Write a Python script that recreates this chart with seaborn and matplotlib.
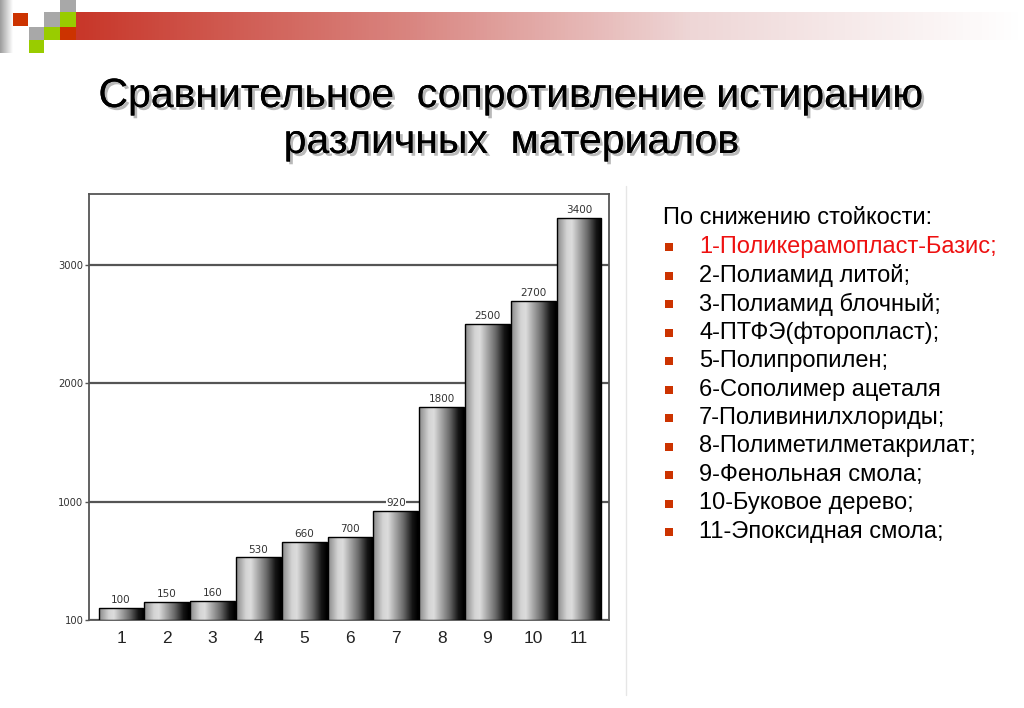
import numpy as np
import pandas as pd
import matplotlib
matplotlib.use("Agg")
import matplotlib.pyplot as plt
import seaborn as sns
from matplotlib.colors import LinearSegmentedColormap
from matplotlib.patches import Rectangle
from matplotlib import patheffects

# ---------------- data ----------------
categories = ["1", "2", "3", "4", "5", "6", "7", "8", "9", "10", "11"]
values = [100, 150, 160, 530, 660, 700, 920, 1800, 2500, 2700, 3400]
ytick_values = [0, 1000, 2000, 3000]
ytick_labels = ["100", "1000", "2000", "3000"]
title_lines = ["Сравнительное  сопротивление истиранию", "различных  материалов"]
list_header = "По снижению стойкости:"
materials = [
    "1-Поликерамопласт-Базис;",
    "2-Полиамид литой;",
    "3-Полиамид блочный;",
    "4-ПТФЭ(фторопласт);",
    "5-Полипропилен;",
    "6-Сополимер ацеталя",
    "7-Поливинилхлориды;",
    "8-Полиметилметакрилат;",
    "9-Фенольная смола;",
    "10-Буковое дерево;",
    "11-Эпоксидная смола;",
]

sns.set_theme(style="white")
plt.rcParams["font.family"] = ["Liberation Sans", "DejaVu Sans"]

W, H = 1024, 708
fig = plt.figure(figsize=(W / 100, H / 100), dpi=100)
fig.patch.set_facecolor("white")

# ---------------- decorative background (pixel coords) ----------------
bg = fig.add_axes([0, 0, 1, 1], zorder=0)
bg.set_xlim(0, W)
bg.set_ylim(H, 0)
bg.axis("off")

red_cmap = LinearSegmentedColormap.from_list(
    "hdr", [(0, "#c8372a"), (0.35, "#d98580"), (0.65, "#eed6d6"), (1, "#ffffff")])
bg.imshow(np.linspace(0, 1, 256)[None, :], cmap=red_cmap, aspect="auto",
          extent=(76, W, 40, 12), interpolation="bilinear")
gray_cmap = LinearSegmentedColormap.from_list("g", ["#9c9c9c", "#ffffff"])
bg.imshow(np.linspace(0, 1, 64)[None, :], cmap=gray_cmap, aspect="auto",
          extent=(0, 13, 53, 0), interpolation="bilinear")
GRAY, GREEN, RED = "#a8a8a8", "#99cc00", "#cc3300"
for (x0, y0, x1, y1, c) in [
    (60, 0, 76, 12, GRAY), (60, 12, 76, 27, GREEN), (60, 27, 76, 40, RED),
    (44, 12, 60, 27, GRAY), (44, 27, 60, 40, GREEN),
    (29, 27, 44, 40, GRAY), (29, 40, 44, 53, GREEN),
    (13, 13, 28, 26, RED)]:
    bg.add_patch(Rectangle((x0, y0), x1 - x0, y1 - y0, color=c, lw=0))

# faint frame of the chart picture
bg.plot([626, 626], [186, 695], color="#e6e6e6", lw=1)

# ---------------- title ----------------
shadow = [patheffects.withSimplePatchShadow(offset=(2, -2), shadow_rgbFace="#808080", alpha=0.55),
          patheffects.Normal()]
for line, yb in zip(title_lines, [107, 153]):
    fig.text(0.5, 1 - yb / H, line, ha="center", va="baseline", fontsize=29.5,
             color="black", path_effects=shadow)

# ---------------- chart ----------------
ax = fig.add_axes([89 / W, 1 - 620 / H, (609 - 89) / W, (620 - 194) / H], zorder=2)
df = pd.DataFrame({"cat": categories, "val": values})
sns.barplot(data=df, x="cat", y="val", ax=ax, color="#888888", edgecolor="black",
            linewidth=1.0, width=0.98, zorder=3)

bar_cmap = LinearSegmentedColormap.from_list(
    "bar", [(0, "#8a8a8a"), (0.22, "#d4d4d4"), (0.33, "#dcdcdc"), (0.68, "#6a6a6a"),
            (0.88, "#141414"), (1, "#000000")])
grad = np.linspace(0, 1, 200)[None, :]
for p in ax.patches:
    x, y = p.get_x(), p.get_y()
    w, h = p.get_width(), p.get_height()
    im = ax.imshow(grad, cmap=bar_cmap, aspect="auto", extent=(x, x + w, y, y + h),
                   interpolation="bilinear", zorder=3.5)
    im.set_clip_path(p)
    p.set_facecolor("none")
    p.set_zorder(4)

for cont in ax.containers:
    ax.bar_label(cont, labels=[str(v) for v in values], padding=2, fontsize=7.5,
                 color="#333333", family="DejaVu Sans", zorder=5,
                 bbox=dict(facecolor="white", edgecolor="none", pad=0.3))

ax.set_xlim(-0.699, 10.655)
ax.set_ylim(0, 3600)
ax.set_yticks(ytick_values)
ax.set_yticklabels(ytick_labels, fontsize=7.2, color="#333333", family="DejaVu Sans")
ax.set_xticks(range(len(categories)))
ax.set_xticklabels(categories, fontsize=12.5, color="#222222")
ax.set_xlabel("")
ax.set_ylabel("")
ax.tick_params(axis="y", which="both", left=True, length=3, width=1, color="#555555", pad=1)
ax.tick_params(axis="x", bottom=False, pad=2)
ax.yaxis.grid(True, color="#555555", lw=1.6)
ax.xaxis.grid(False)
ax.set_axisbelow(True)
for s in ax.spines.values():
    s.set_visible(True)
    s.set_color("#555555")
    s.set_linewidth(1.3)
ax.set_facecolor("white")

# ---------------- right-hand list ----------------
fig.text(663 / W, 1 - 218 / H, list_header, ha="left", va="center", fontsize=17, color="black")
for i, name in enumerate(materials):
    yc = 247 + i * 28.5
    bg.add_patch(Rectangle((665, yc - 4), 8, 8, color="#cc3300", lw=0))
    fig.text(699 / W, 1 - yc / H, name, ha="left", va="center", fontsize=17,
             color="#ee1111" if i == 0 else "black")

fig.savefig("out.png", dpi=100, facecolor="white")
